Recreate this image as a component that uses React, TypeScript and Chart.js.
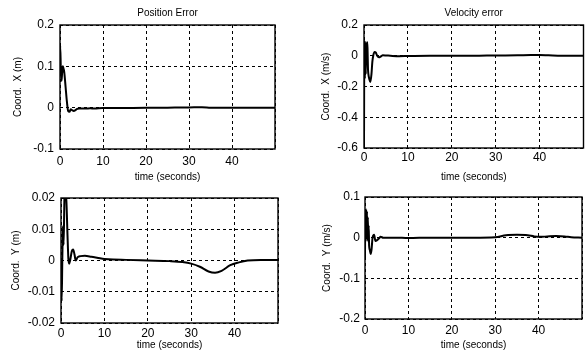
import React, { useEffect, useRef } from 'react';
import { Chart, registerables } from 'chart.js';

Chart.register(...registerables);

const FONT = "'Liberation Sans', Arial, Helvetica, sans-serif";

// ---------- data ----------
const xTickValues = [0, 10, 20, 30, 40];

const posXTitle = 'Position Error';
const velXTitle = 'Velocity error';

// Position error, X (m)
const tPosX = [0, 0.05, 0.2, 0.35, 0.5, 0.65, 0.8, 1.0, 1.3, 1.6, 1.9, 2.2, 2.5, 2.8, 3.2, 3.6, 4.0, 4.5, 5, 6, 7, 8, 10, 12, 15, 20, 25, 30, 33, 35, 40, 45, 50];
const posX = [0.14, 0.15, 0.09, 0.065, 0.085, 0.1, 0.095, 0.085, 0.05, 0.015, -0.008, -0.01, -0.004, -0.006, -0.008, -0.006, -0.003, -0.002, -0.002, -0.002, -0.0015, -0.002, -0.001, -0.001, -0.0008, -0.0005, 0, 0.0005, 0.001, 0, -0.0005, 0, 0];

// Velocity error, X (m/s)
const tVelX = [0, 0.08, 0.2, 0.3, 0.4, 0.5, 0.6, 0.7, 0.8, 0.9, 1.0, 1.2, 1.45, 1.7, 1.9, 2.1, 2.4, 2.7, 3.0, 3.4, 3.8, 4.3, 5, 6, 8, 10, 15, 20, 25, 30, 35, 38, 40, 42, 45, 50];
const velX = [-0.6, 0.1, -0.15, 0.09, -0.12, 0.08, -0.05, 0.09, 0.05, -0.08, -0.12, -0.15, -0.17, -0.12, -0.04, 0.0, 0.025, 0.02, 0.0, -0.01, -0.005, 0.003, 0.002, 0, -0.003, -0.002, 0, 0, 0, 0.002, 0.003, 0.005, 0.005, 0.003, 0, 0];

// Position error, Y (m)
const tPosY = [0, 0.15, 0.3, 0.45, 0.6, 0.8, 1.0, 1.2, 1.5, 1.7, 1.9, 2.1, 2.5, 2.8, 3.1, 3.4, 3.8, 4.5, 5.5, 7, 9, 10, 12, 15, 20, 25, 28, 30, 32, 34, 35.5, 37, 39, 41, 43, 46, 50];
const posY = [0, -0.013, 0.0, 0.011, 0.005, 0.02, 0.021, 0.02, 0.008, 0.0005, -0.001, 0, 0.003, 0.0035, 0.002, 0, 0.001, 0.0014, 0.0015, 0.0012, 0.0007, 0.0005, 0.0003, 0.0002, 0, -0.0002, -0.0005, -0.001, -0.002, -0.0035, -0.0039, -0.0033, -0.0015, -0.0006, 0, 0.0002, 0.0002];

// Velocity error, Y (m/s)
const tVelY = [0, 0.05, 0.15, 0.25, 0.35, 0.45, 0.55, 0.65, 0.75, 0.85, 0.95, 1.1, 1.3, 1.5, 1.75, 2.1, 2.4, 2.8, 3.2, 3.6, 4.2, 5, 7, 10, 15, 20, 25, 30, 32.5, 35, 37.5, 39, 40.5, 42, 44, 46, 47.5, 50];
const velY = [-0.05, 0.06, -0.01, 0.07, 0.0, 0.065, -0.005, 0.05, -0.01, 0.03, -0.02, -0.03, -0.04, -0.03, 0.0, 0.007, -0.008, -0.006, -0.002, 0.002, 0.0, 0.0, 0.0, -0.001, 0, 0, 0, 0.001, 0.006, 0.007, 0.006, 0.003, 0.002, 0.003, 0.004, 0.003, 0.001, 0];

// ---------- layout ----------
interface PanelSpec {
  title?: string;
  yLabel: string;
  t: number[];
  v: number[];
  yMin: number;
  yMax: number;
  yStep: number;
  left: number;
  top: number;
  width: number;
  height: number;
  padRight: number;
  yAxisWidth: number;
  yTitlePad: number;
  yTickPad: number;
  xAxisHeight: number;
  xTickPad: number;
}

const panels: PanelSpec[] = [
  { title: posXTitle, yLabel: 'Coord.  X (m)', t: tPosX, v: posX, yMin: -0.1, yMax: 0.2, yStep: 0.1,
    left: 0, top: 0, width: 280, height: 183, padRight: 2, yAxisWidth: 60, yTitlePad: 12, yTickPad: 6, xAxisHeight: 34, xTickPad: 5 },
  { title: velXTitle, yLabel: 'Coord.  X (m/s)', t: tVelX, v: velX, yMin: -0.6, yMax: 0.2, yStep: 0.2,
    left: 293, top: 0, width: 293, height: 183, padRight: 1, yAxisWidth: 71, yTitlePad: 27, yTickPad: 6, xAxisHeight: 35, xTickPad: 2.5 },
  { yLabel: 'Coord.  Y (m)', t: tPosY, v: posY, yMin: -0.02, yMax: 0.02, yStep: 0.01,
    left: 0, top: 173, width: 281, height: 178, padRight: 2, yAxisWidth: 61, yTitlePad: 10, yTickPad: 6, xAxisHeight: 28, xTickPad: 3 },
  { yLabel: 'Coord.  Y (m/s)', t: tVelY, v: velY, yMin: -0.2, yMax: 0.1, yStep: 0.1,
    left: 293, top: 172, width: 293, height: 179, padRight: 1, yAxisWidth: 72, yTitlePad: 28, yTickPad: 5, xAxisHeight: 32, xTickPad: 4 },
];

const fmt = (v: number) => {
  const r = Number(Number(v).toFixed(4));
  return r === 0 ? '0' : String(r);
};

function Panel({ spec }: { spec: PanelSpec }) {
  const ref = useRef<HTMLCanvasElement | null>(null);
  useEffect(() => {
    if (!ref.current) return;
    const framePlugin = {
      id: 'frameAndTitle',
      afterDatasetsDraw(chart: any) {
        const { ctx, chartArea } = chart;
        ctx.save();
        ctx.strokeStyle = '#000';
        ctx.lineWidth = 1.4;
        ctx.strokeRect(chartArea.left, chartArea.top, chartArea.right - chartArea.left, chartArea.bottom - chartArea.top);
        if (spec.title) {
          ctx.fillStyle = '#000';
          ctx.font = `10px ${FONT}`;
          ctx.textAlign = 'center';
          ctx.textBaseline = 'middle';
          ctx.fillText(spec.title, (chartArea.left + chartArea.right) / 2, chartArea.top - 11.5);
        }
        ctx.restore();
      },
    };
    const chart = new Chart(ref.current, {
      type: 'line',
      data: {
        datasets: [
          {
            data: spec.t.map((x, i) => ({ x, y: spec.v[i] })),
            borderColor: '#000',
            borderWidth: 2,
            pointRadius: 0,
            fill: false,
            cubicInterpolationMode: 'monotone',
          },
        ],
      },
      options: {
        responsive: false,
        animation: false,
        events: [],
        layout: { padding: { top: 25, right: spec.padRight, bottom: 0, left: 0 } },
        plugins: { legend: { display: false }, tooltip: { enabled: false }, title: { display: false } },
        scales: {
          x: {
            type: 'linear',
            min: 0,
            max: 50,
            afterFit: (s: any) => { s.height = spec.xAxisHeight; },
            afterBuildTicks: (s: any) => {
              s.ticks = [...xTickValues, 50].map((value) => ({ value }));
            },
            ticks: {
              color: '#000',
              font: { family: FONT, size: 12 },
              padding: spec.xTickPad,
              maxRotation: 0,
              autoSkip: false,
              callback: (v: any) => (xTickValues.includes(Number(v)) ? String(v) : ''),
            },
            grid: { color: '#000', lineWidth: 1, drawTicks: false },
            border: { display: false, dash: [3, 3] },
            title: {
              display: true,
              text: 'time (seconds)',
              color: '#000',
              font: { family: FONT, size: 10 },
              padding: { top: 0, bottom: 0 },
            },
          },
          y: {
            type: 'linear',
            min: spec.yMin,
            max: spec.yMax,
            afterFit: (s: any) => { s.width = spec.yAxisWidth; },
            ticks: {
              stepSize: spec.yStep,
              color: '#000',
              font: { family: FONT, size: 12 },
              padding: spec.yTickPad,
              callback: (v: any) => fmt(Number(v)),
            },
            grid: { color: '#000', lineWidth: 1, drawTicks: false },
            border: { display: false, dash: [3, 3] },
            title: {
              display: true,
              text: spec.yLabel,
              color: '#000',
              font: { family: FONT, size: 10 },
              padding: { top: spec.yTitlePad, bottom: 0 },
            },
          },
        },
      },
      plugins: [framePlugin],
    } as any);
    return () => chart.destroy();
  }, [spec]);
  return (
    <canvas
      ref={ref}
      width={spec.width}
      height={spec.height}
      style={{ position: 'absolute', left: spec.left, top: spec.top, width: spec.width, height: spec.height }}
    />
  );
}

export default function App() {
  return (
    <div style={{ position: 'fixed', left: 0, top: 0, width: 586, height: 356, background: '#fff', overflow: 'hidden' }}>
      {panels.map((p, i) => (
        <Panel key={i} spec={p} />
      ))}
    </div>
  );
}
